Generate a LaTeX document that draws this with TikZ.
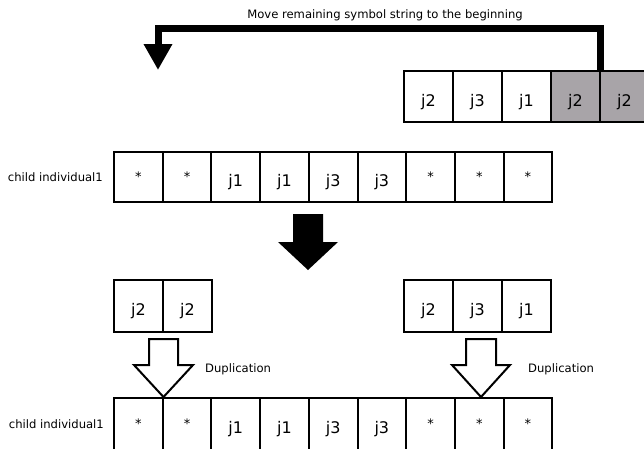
\documentclass[tikz,border=0pt]{standalone}
\usepackage{fontspec}
\setmainfont{DejaVu Sans}
\usetikzlibrary{arrows.meta}
\definecolor{cellgray}{RGB}{168,164,168}
% wildcard symbol, set high in the cell like a superscript
\newcommand\wildsym{\raisebox{5pt}{\fontsize{13}{13}\selectfont *}}
\begin{document}
\begin{tikzpicture}[x=1pt,y=-1pt,
  cell/.style={draw=black, line width=2pt, minimum width=49pt, minimum height=51pt,
    inner sep=0pt, outer sep=0pt, text height=21pt, text depth=2pt,
    font=\fontsize{16}{16}\selectfont},
  longcell/.style={cell, minimum width=48.7pt, minimum height=50pt},
  shaded/.style={fill=cellgray},
  caption/.style={font=\fontsize{11.6}{13}\selectfont, inner sep=0pt},
  solidarrow/.style={fill=black},
  hollowarrow/.style={draw=black, line width=2pt, fill=white, line join=miter},
  movearrow/.style={line width=7pt, line join=miter, -{Triangle[width=27pt,length=26pt]}}
]
\useasboundingbox (0,0) rectangle (644,448);

% remaining symbol string, the last two cells shaded
\foreach \s [count=\i] in {j2,j3,j1}
  \node[cell] (t\i) at ({428.5+49*(\i-1)},96.5) {\s};
\foreach \s [count=\i from 4] in {j2,j2}
  \node[cell, shaded] (t\i) at ({428.5+49*(\i-1)},96.5) {\s};

% child individual before the move
\foreach \s [count=\i] in {\wildsym,\wildsym,j1,j1,j3,j3,\wildsym,\wildsym,\wildsym}
  \node[longcell] (m\i) at ({138.35+48.7*(\i-1)},177) {\s};
\node[caption, anchor=east] (mlabel) at ([xshift=-11pt]m1.west) {child individual1};

% arrow carrying the remaining string to the front
\node[caption] (title) at (385,15) {Move remaining symbol string to the beginning};
\coordinate (bend) at (158,28);
\coordinate (front) at (158,70);
\draw[movearrow] (t4.north east) |- (bend) -- (front);

% step arrow
\fill[solidarrow] (293,214) -- (323,214) -- (323,242) -- (338,242) -- (308,270)
  -- (278,242) -- (293,242) -- cycle;

% separated pieces
\foreach \s [count=\i] in {j2,j2}
  \node[cell, minimum height=52pt] (p\i) at ({138.5+49*(\i-1)},305.5) {\s};
\foreach \s [count=\i] in {j2,j3,j1}
  \node[cell, minimum height=52pt] (q\i) at ({428.5+49*(\i-1)},305.5) {\s};

% duplication arrows
\draw[hollowarrow] (149,339) -- (178,339) -- (178,365) -- (193,365) -- (163.5,397)
  -- (134,365) -- (149,365) -- cycle;
\draw[hollowarrow] (466,339) -- (496,339) -- (496,365) -- (510,365) -- (481,397)
  -- (452,365) -- (466,365) -- cycle;
\node[caption, anchor=west] (dupl) at (205,369) {Duplication};
\node[caption, anchor=west] (dupr) at (528,369) {Duplication};

% child individual after the duplication
\foreach \s [count=\i] in {\wildsym,\wildsym,j1,j1,j3,j3,\wildsym,\wildsym,\wildsym}
  \node[longcell, minimum height=52pt] (b\i) at ({138.35+48.7*(\i-1)},424) {\s};
\node[caption, anchor=east] (blabel) at ([xshift=-10pt]b1.west) {child individual1};
\end{tikzpicture}
\end{document}
